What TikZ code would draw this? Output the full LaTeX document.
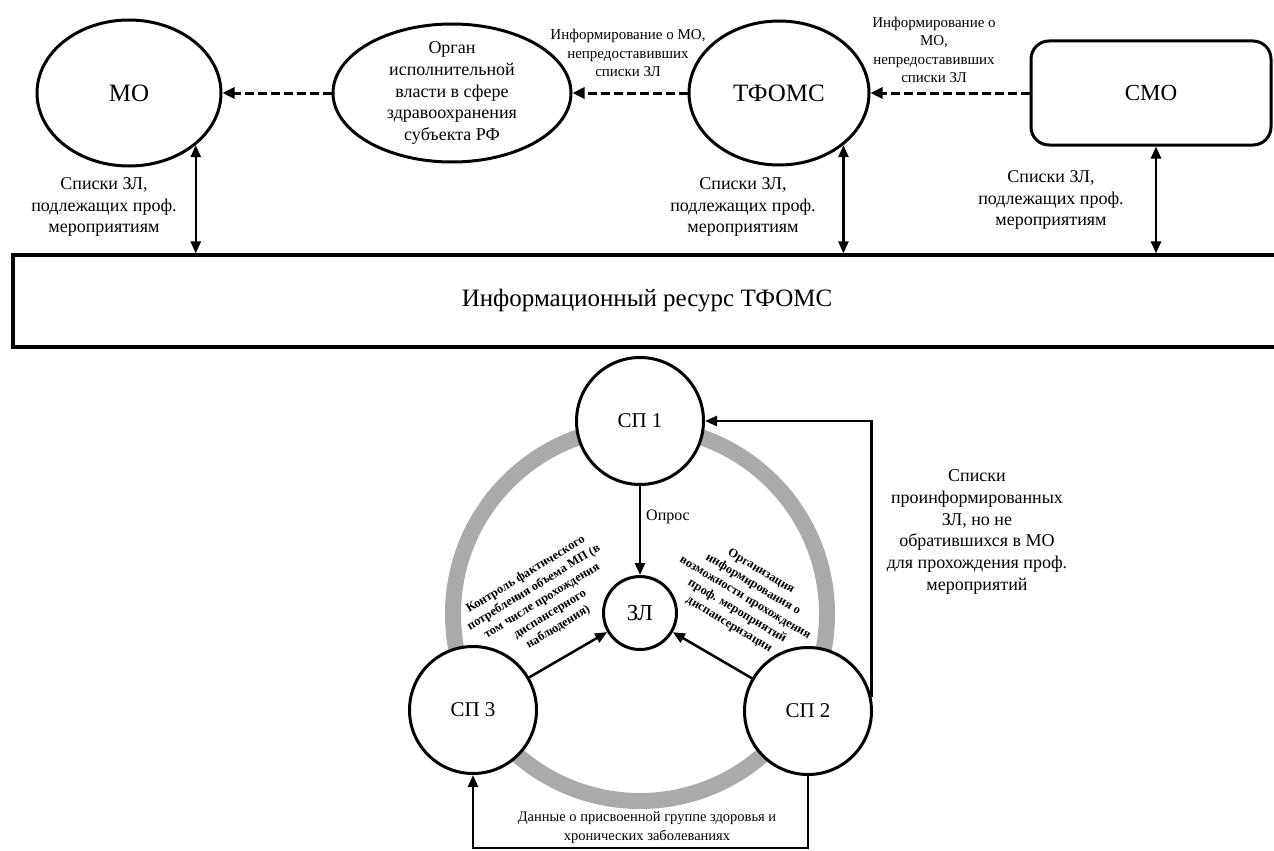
\documentclass[tikz,border=0pt]{standalone}
\usepackage{fontspec}
\setmainfont{Liberation Serif}
\usetikzlibrary{arrows.meta,shapes.geometric}
\definecolor{ringgray}{RGB}{170,170,170}
\begin{document}
\begin{tikzpicture}[x=1pt,y=-1pt,
  ent/.style={draw=black, line width=3pt, inner sep=0pt},
  ell/.style={ent, ellipse},
  circ/.style={ent, circle, minimum size=127pt, fill=white},
  lbl/.style={align=center, inner sep=0pt},
  fbig/.style={font=\fontsize{25}{30}\selectfont},
  fmid/.style={font=\fontsize{18}{21.7}\selectfont},
  fsmall/.style={font=\fontsize{15}{18.5}\selectfont},
  frot/.style={font=\bfseries\fontsize{12.5}{15.5}\selectfont},
  dasharr/.style={line width=3pt, dash pattern=on 9pt off 4pt, -{Triangle[length=12pt,width=11pt]}},
  dblarr/.style={line width=2.5pt, {Triangle[length=12pt,width=10pt]}-{Triangle[length=12pt,width=10pt]}},
  arr/.style={line width=2.5pt, -{Triangle[length=12pt,width=10pt]}},
]
\useasboundingbox (0,0) rectangle (1274,851);
\clip (0,0) rectangle (1274,851);
\fill[white] (0,0) rectangle (1274,851);

% top row
\node[ell, minimum width=184pt, minimum height=146pt, fbig] (MO) at (129,93) {МО};
\node[ell, minimum width=238pt, minimum height=138pt] (ORG) at (452,93) {};
\node[lbl, fmid] (ORGT) at (452,93) {Орган\\исполнительной\\власти в сфере\\здравоохранения\\субъекта РФ};
\node[ell, minimum width=180pt, minimum height=144pt, fbig] (TF) at (779,93) {ТФОМС};
\node[ent, rounded corners=18pt, minimum width=240pt, minimum height=104pt, font=\fontsize{23}{28}\selectfont] (SMO) at (1151,93) {СМО};

% information resource
\node[ent, line width=3.2pt, minimum width=1268pt, minimum height=92pt, fbig] (IR) at (647,301) {Информационный ресурс ТФОМС};

% dashed arrows
\draw[dasharr] (ORG.west) -- (MO.east);
\draw[dasharr] (TF.west) -- (ORG.east);
\draw[dasharr] (SMO.west) -- (TF.east);

\node[lbl, fsmall] (IA) at (628,53) {Информирование о МО,\\непредоставивших\\списки ЗЛ};
\node[lbl, fsmall] (IB) at (934,50) {Информирование о\\МО,\\непредоставивших\\списки ЗЛ};

% double arrows
\draw[dblarr] (MO.-38.4) -- (MO.-38.4 |- IR.north);
\draw[dblarr] (TF.-39) -- (TF.-39 |- IR.north);
\draw[dblarr] ([xshift=5pt]SMO.south) -- ([xshift=5pt]SMO.south |- IR.north);

\node[lbl, fmid] (LA) at (104,207) {Списки ЗЛ,\\подлежащих проф.\\мероприятиям};
\node[lbl, fmid] (LB) at (743,207) {Списки ЗЛ,\\подлежащих проф.\\мероприятиям};
\node[lbl, fmid] (LC) at (1051,200) {Списки ЗЛ,\\подлежащих проф.\\мероприятиям};

% lower cycle
\draw[ringgray, line width=16pt] (640,614) circle[radius=187pt];
\node[circ, font=\fontsize{21}{25}\selectfont] (SP1) at (640,421) {СП 1};
\node[circ, font=\fontsize{21}{25}\selectfont] (SP3) at (473,710) {СП 3};
\node[circ, font=\fontsize{21}{25}\selectfont] (SP2) at (808,711) {СП 2};
\node[ent, circle, minimum size=73pt, fill=white, font=\fontsize{23}{28}\selectfont] (ZL) at (640,613) {ЗЛ};

\draw[arr] (SP1) -- (ZL);
\draw[arr] (SP3) -- (ZL);
\draw[arr] (SP2) -- (ZL);
\draw[arr] (SP2.12) |- (SP1.east);
\coordinate (bot) at (0,848);
\draw[arr] (SP2.south) -- (SP2.south |- bot) -| (SP3.south);

\node[lbl, anchor=west, font=\fontsize{16}{19}\selectfont] (OP) at (646,517) {Опрос};
\node[lbl, fmid] (LD) at (977,532) {Списки\\проинформированных\\ЗЛ, но не\\обратившихся в МО\\для прохождения проф.\\мероприятий};
\node[lbl, font=\fontsize{14.5}{19}\selectfont] (LE) at (647,828) {Данные о присвоенной группе здоровья и\\хронических заболеваниях};
\node[lbl, frot, rotate=31.5] (LF) at (542,601) {Контроль фактического\\потребления объема МП (в\\том числе прохождения\\диспансерного\\наблюдения)};
\node[lbl, frot, rotate=-31] (LG) at (745,598) {Организация\\информирования о\\возможности прохождения\\проф. мероприятий\\диспансеризации};
\end{tikzpicture}
\end{document}
